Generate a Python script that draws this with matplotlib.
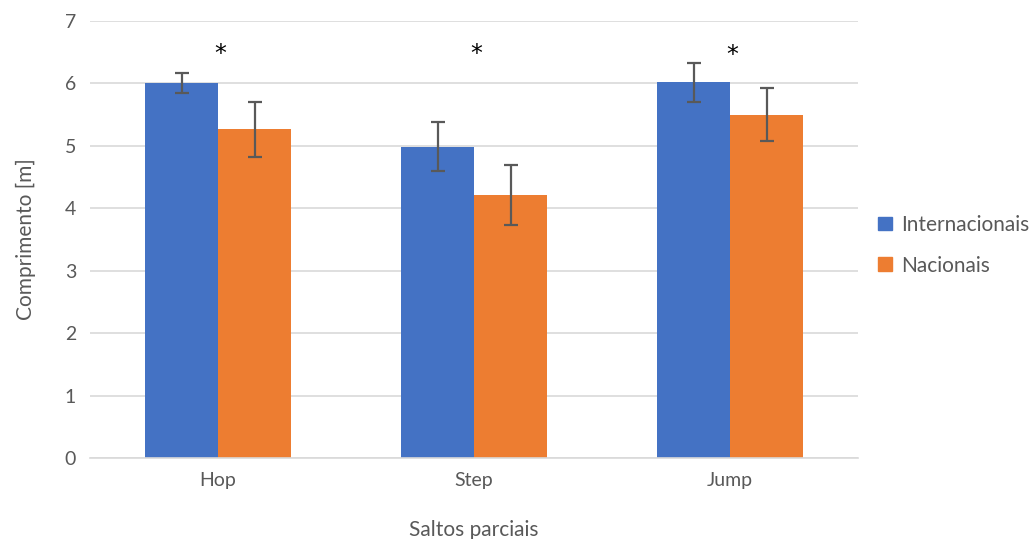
import numpy as np
import matplotlib.pyplot as plt
from matplotlib.patches import Patch

plt.rcParams['font.family'] = ['Lato', 'DejaVu Sans']

# mean length [m] and error per partial jump
saltos = ['Hop', 'Step', 'Jump']
internacionais = [6.00, 4.99, 6.02]
internacionais_err = [0.16, 0.39, 0.31]
nacionais = [5.27, 4.22, 5.50]
nacionais_err = [0.44, 0.48, 0.42]
star_y = [6.47, 6.47, 6.45]

blue = '#4472C4'
orange = '#ED7D31'
grey = '#595959'

x = np.arange(len(saltos))
width = 0.285

fig = plt.figure(figsize=(10.29, 5.39), dpi=100)
ax = fig.add_axes([0.0875, 0.150, 0.7464, 0.811])

ekw = dict(ecolor=grey, elinewidth=1.6, capsize=5, capthick=1.6)
ax.bar(x - width/2, internacionais, width, color=blue, yerr=internacionais_err,
       error_kw=ekw, zorder=2)
ax.bar(x + width/2, nacionais, width, color=orange, yerr=nacionais_err,
       error_kw=ekw, zorder=2)

for i, y in enumerate(star_y):
    ax.text(x[i] + 0.01, y, '*', ha='center', va='center', fontsize=17,
            family='DejaVu Sans', color='black')

ax.set_xlim(-0.5, 2.5)
ax.set_ylim(0, 7)
ax.set_yticks(range(0, 8))
ax.yaxis.grid(True, color='#d9d9d9', linewidth=1.2, zorder=0)
ax.set_axisbelow(True)
for s in ['top', 'right', 'left']:
    ax.spines[s].set_visible(False)
ax.spines['bottom'].set_color('#d9d9d9')
ax.spines['bottom'].set_linewidth(1.2)
ax.tick_params(length=0, labelsize=14, labelcolor=grey, pad=10)
ax.set_xticks(x)
ax.set_xticklabels(saltos)
ax.set_ylabel('Comprimento [m]', fontsize=15, color=grey, labelpad=21)
ax.set_xlabel('Saltos parciais', fontsize=15, color=grey, labelpad=22)

handles = [Patch(color=blue), Patch(color=orange)]
fig.legend(handles, ['Internacionais', 'Nacionais'], loc='center left',
           bbox_to_anchor=(0.835, 0.545), frameon=False, fontsize=15,
           labelcolor=grey, handlelength=0.65, handleheight=0.65,
           handletextpad=0.45, labelspacing=1.0)

plt.savefig('out.png', dpi=100)
